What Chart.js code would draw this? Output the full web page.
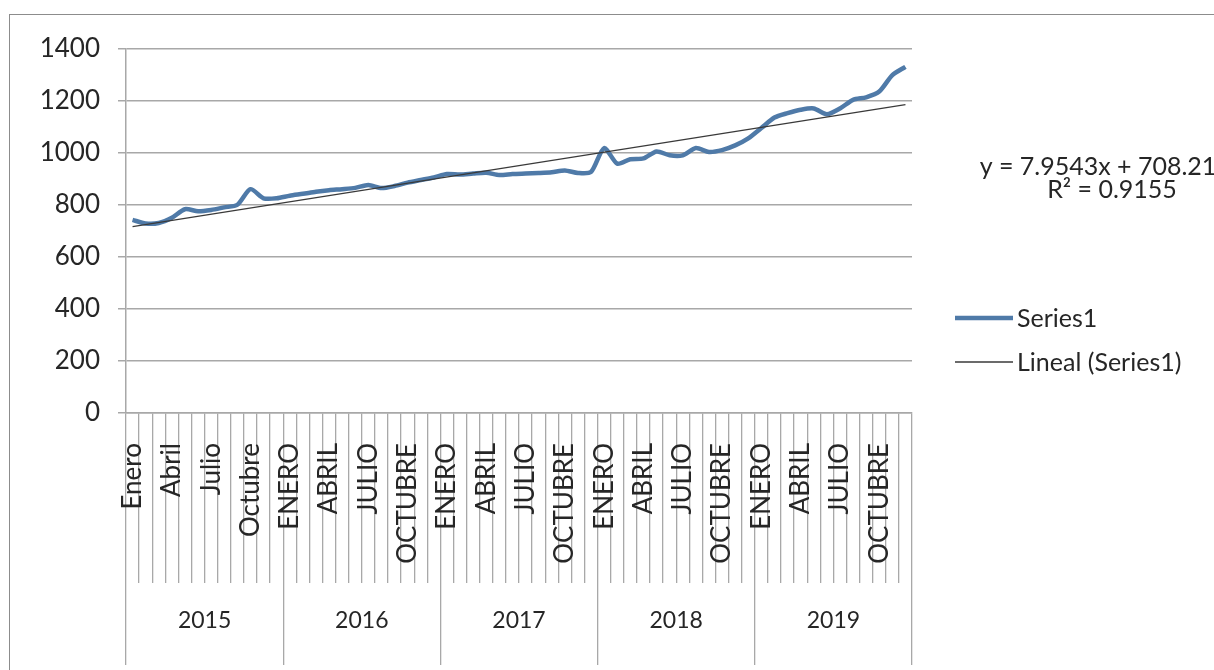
<!DOCTYPE html>
<html lang="es">
<head>
<meta charset="utf-8">
<title>Series1</title>
<script src="https://cdn.jsdelivr.net/npm/chart.js@4.4.1/dist/chart.umd.min.js"></script>
<style>
  html, body { margin: 0; padding: 0; background: #fff; }
  #frame {
    position: absolute; left: 9px; top: 14px; width: 1205px; height: 656px;
    border-left: 1px solid #8c8c8c; border-top: 1px solid #8c8c8c;
  }
  #chart { display: block; }
</style>
</head>
<body>
<div id="frame"><canvas id="chart" width="1204" height="655"></canvas></div>
<script>
// category levels
const years = ["2015", "2016", "2017", "2018", "2019"];
const months2015 = ["Enero", "Febrero", "Marzo", "Abril", "Mayo", "Junio",
  "Julio", "Agosto", "Septiembre", "Octubre", "Noviembre", "Diciembre"];
const monthsUpper = ["ENERO", "FEBRERO", "MARZO", "ABRIL", "MAYO", "JUNIO",
  "JULIO", "AGOSTO", "SEPTIEMBRE", "OCTUBRE", "NOVIEMBRE", "DICIEMBRE"];

// Series1, one array per year
const values2015 = [742, 728, 730, 750, 783, 775, 780, 790, 800, 860, 825, 825];
const values2016 = [835, 842, 850, 856, 860, 865, 876, 864, 872, 885, 895, 905];
const values2017 = [918, 916, 920, 923, 914, 918, 920, 922, 925, 932, 922, 926];
const values2018 = [1018, 958, 975, 978, 1005, 990, 990, 1018, 1003, 1010, 1028, 1055];
const values2019 = [1095, 1135, 1152, 1165, 1170, 1148, 1170, 1203, 1213, 1235, 1298, 1330];

// linear trendline: value at first and last month
const trendEnds = [716, 1185];
const trendText = ["y = 7.9543x + 708.21", "R\u00B2 = 0.9155"];

const yMin = 0, yMax = 1400, yStep = 200;

const categories = years.flatMap((y, k) => (k === 0 ? months2015 : monthsUpper));
const series1 = [].concat(values2015, values2016, values2017, values2018, values2019);

// trend dataset only has its two end values, the rest is a gap
const trendData = categories.map(() => null);
trendData[0] = trendEnds[0];
trendData[categories.length - 1] = trendEnds[1];

const FONT = "Lato, 'Open Sans', sans-serif";
const TEXT = "#262626";
const GRID = "#a8a8a8";

// equation + legend drawn at the right of the plot
const sideText = {
  id: "sideText",
  afterDraw(chart) {
    const { ctx, chartArea } = chart;
    const x0 = chartArea.right + 43;
    ctx.save();
    ctx.fillStyle = TEXT;
    ctx.font = "25px " + FONT;
    ctx.textAlign = "center";
    ctx.textBaseline = "middle";
    ctx.fillText(trendText[0], x0 + 143, 152);
    ctx.fillText(trendText[1], x0 + 157, 175);

    ctx.textAlign = "left";
    chart.data.datasets.forEach((ds, i) => {
      const y = 303 + i * 44;
      ctx.strokeStyle = ds.borderColor;
      ctx.lineWidth = ds.borderWidth;
      ctx.beginPath();
      ctx.moveTo(x0, y);
      ctx.lineTo(x0 + 58, y);
      ctx.stroke();
      ctx.fillText(ds.label, x0 + 62, y + 1);
    });
    ctx.restore();
  }
};

new Chart(document.getElementById("chart"), {
  type: "line",
  data: {
    labels: categories,
    datasets: [
      {
        label: "Series1",
        data: series1,
        borderColor: "#4f7aa8",
        borderWidth: 4.5,
        pointRadius: 0,
        tension: 0.25,
        order: 1
      },
      {
        label: "Lineal (Series1)",
        data: trendData,
        spanGaps: true,
        borderColor: "#3a3a3a",
        borderWidth: 1.3,
        pointRadius: 0,
        order: 0
      }
    ]
  },
  options: {
    responsive: false,
    animation: false,
    layout: { padding: { top: 33, right: 302, left: 0, bottom: 0 } },
    plugins: {
      legend: { display: false },
      tooltip: { enabled: false }
    },
    scales: {
      y: {
        min: yMin,
        max: yMax,
        ticks: {
          stepSize: yStep, padding: 18, color: TEXT,
          font: { family: FONT, size: 26 },
          callback: (v) => String(v)
        },
        grid: { color: GRID, lineWidth: 1.5, tickLength: 8, drawTicks: true },
        border: { color: GRID, width: 1.5 },
        afterFit: (s) => { s.width = 116; }
      },
      x: {
        type: "category",
        offset: true,
        weight: 0,
        ticks: {
          autoSkip: false,
          minRotation: 90,
          maxRotation: 90,
          padding: -140,
          color: TEXT,
          font: { family: FONT, size: 26 },
          callback: (v, i) => (i % 3 === 0 ? categories[i] : "")
        },
        grid: { offset: true, drawOnChartArea: false, tickLength: 170, color: GRID, lineWidth: 1.3 },
        border: { color: GRID, width: 1.5 },
        afterFit: (s) => { s.height = 170; }
      },
      x2: {
        type: "category",
        position: "bottom",
        labels: years,
        offset: true,
        weight: 1,
        ticks: { padding: -58, color: TEXT, font: { family: FONT, size: 23 } },
        grid: { offset: true, drawOnChartArea: false, tickLength: 82, color: GRID, lineWidth: 1.3 },
        border: { display: false },
        afterFit: (s) => { s.height = 87; }
      }
    }
  },
  plugins: [sideText]
});
</script>
</body>
</html>
